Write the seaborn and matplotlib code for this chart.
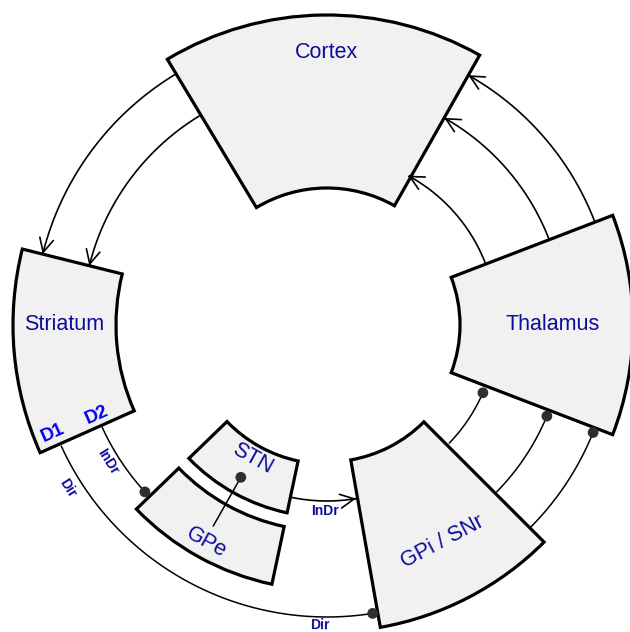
import numpy as np
import matplotlib
matplotlib.use('Agg')
import matplotlib.pyplot as plt
from matplotlib.patches import Wedge, FancyArrowPatch
from matplotlib.path import Path
import seaborn as sns

# nuclei as annular sectors (angles in degrees, radii in px around the loop centre)
regions = ['Cortex', 'Thalamus', 'GPi / SNr', 'Striatum', 'GPe', 'STN']
theta_start = [60.5, -21, -80, 166, -136, -136]
theta_end = [121, 21, -45, 204, -102, -102]
r_inner = [137, 133, 137, 211, 206, 139]
r_outer = [310, 306, 307, 314, 265, 192]
label_r = [273, 226, 246, 263, 249, 153]
label_angle = [90, 0, -62, 180, -119, -119]
label_rot = [0, 0, 28, 0, -29, -29]

# projections drawn as arcs: radius, start angle, end angle, head type
arc_r = [293, 245, 287, 238, 170, 170, 238, 287, 292, 247, 176]
arc_from = [121, 121, 21, 21, 21, -44, -44.5, -45, -155.5, -155.5, -102]
arc_to = [166, 166, 60.5, 60.5, 61.5, -23.5, -22.5, -22, -81, -137.5, -80.5]
arc_head = ['arrow', 'arrow', 'arrow', 'arrow', 'arrow', 'dot', 'dot', 'dot',
            'dot', 'dot', 'arrow']

# GPe -> STN straight projection
gpe_stn_angle = -119.5
gpe_stn_r = [231, 175]

# pathway labels
path_labels = ['InDr', 'Dir', 'InDr', 'Dir']
path_label_r = [258, 306, 186, 300]
path_label_angle = [-148, -147.8, -90.6, -91.3]
path_label_rot = [-58, -58, 0, -1]

# receptor labels on the striatum
receptors = ['D1', 'D2']
receptor_r = [295, 247]
receptor_angle = [-158.6, -158.6]


def polar(r, a):
    a = np.deg2rad(a)
    return r * np.cos(a), r * np.sin(a)


sns.set_style('white')
plt.rcParams['font.family'] = ['Liberation Sans', 'DejaVu Sans']

fig = plt.figure(figsize=(6.3, 6.32), dpi=100)
ax = fig.add_axes([0, 0, 1, 1])
ax.set_xlim(-327, 303)
ax.set_ylim(-307, 325)
ax.set_aspect('equal')
ax.axis('off')

text_col = '#0d0d99'

for i, name in enumerate(regions):
    w = Wedge((0, 0), r_outer[i], theta_start[i], theta_end[i],
              width=r_outer[i] - r_inner[i], facecolor='#f1f1f1',
              edgecolor='black', lw=2.3, zorder=3)
    ax.add_patch(w)
    x, y = polar(label_r[i], label_angle[i])
    ax.text(x, y, name, ha='center', va='center', fontsize=15.5,
            rotation=label_rot[i], rotation_mode='anchor', color=text_col,
            zorder=6)

dots_x, dots_y = [], []
for r, a0, a1, head in zip(arc_r, arc_from, arc_to, arc_head):
    th = np.linspace(a0, a1, 200)
    xs, ys = polar(r, th)
    if head == 'arrow':
        p = FancyArrowPatch(path=Path(np.column_stack([xs, ys])),
                            arrowstyle='->,head_length=0.5,head_width=0.25',
                            mutation_scale=20, lw=1.2, color='black',
                            zorder=4, joinstyle='miter')
        ax.add_patch(p)
    else:
        ax.plot(xs, ys, color='black', lw=1.1, zorder=2)
        dots_x.append(xs[-1])
        dots_y.append(ys[-1])

xs, ys = polar(np.array(gpe_stn_r), gpe_stn_angle)
ax.plot(xs, ys, color='black', lw=1.1, zorder=4)
dots_x.append(xs[-1])
dots_y.append(ys[-1])

sns.scatterplot(x=dots_x, y=dots_y, s=60, color='#2e2e2e', edgecolor='none',
                zorder=5, ax=ax, legend=False)

for lab, r, a, rot in zip(path_labels, path_label_r, path_label_angle, path_label_rot):
    x, y = polar(r, a)
    ax.text(x, y, lab, ha='center', va='center', fontsize=10, fontweight='bold',
            rotation=rot, rotation_mode='anchor', color=text_col, zorder=6)

for lab, r, a in zip(receptors, receptor_r, receptor_angle):
    x, y = polar(r, a)
    ax.text(x, y, lab, ha='center', va='center', fontsize=13.5, fontweight='bold',
            rotation=24, rotation_mode='anchor', color='#0000f0', zorder=6)

fig.savefig('out.png', dpi=100)
